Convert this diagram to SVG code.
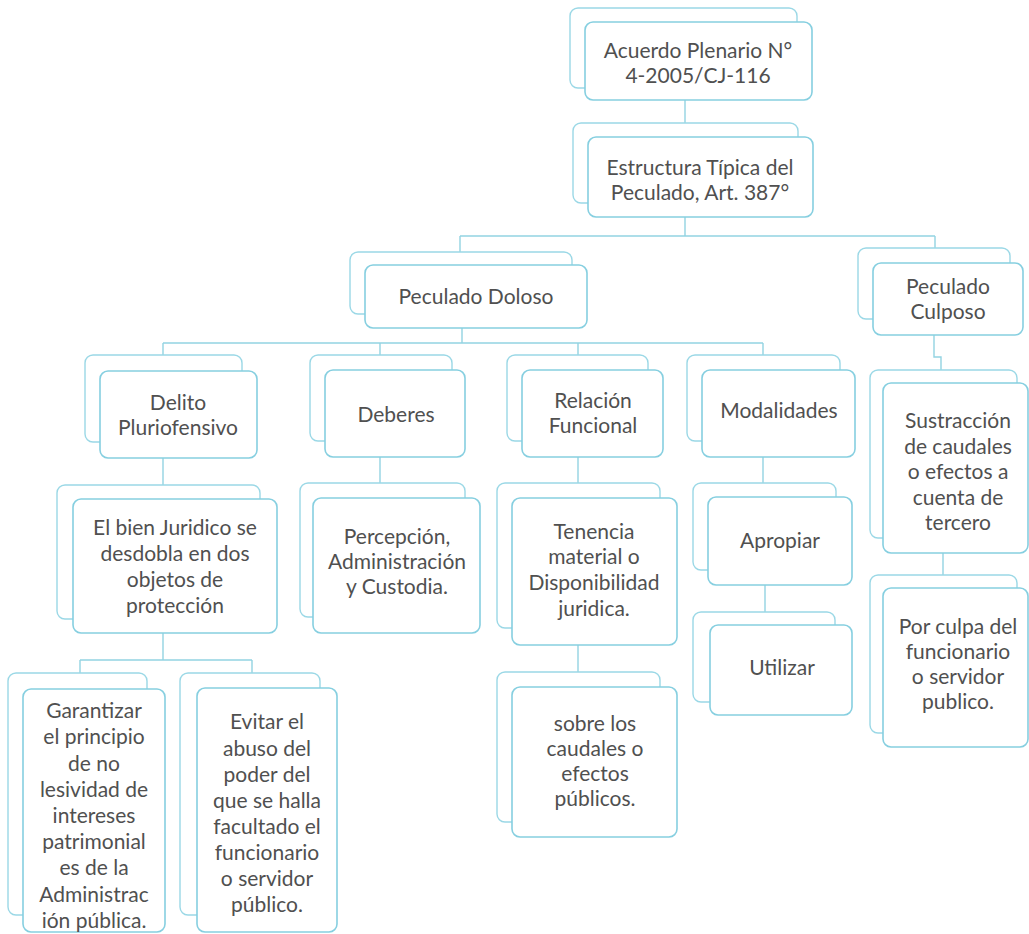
<svg xmlns="http://www.w3.org/2000/svg" width="1029" height="934" viewBox="0 0 1029 934">
  <style>
    .back { fill: #ffffff; stroke: #9bd8e6; stroke-width: 1.4; }
    .front { fill: #ffffff; stroke: #86cfe0; stroke-width: 1.6; }
    .link { fill: none; stroke: #93d3e2; stroke-width: 1.4; }
    text { font-family: Lato, "Liberation Sans", sans-serif; font-size: 21px; fill: #505050; text-anchor: middle; }
  </style>
  <rect width="1029" height="934" fill="#ffffff"/>

  <!-- connectors -->
  <g id="connectors">
    <path class="link" d="M685 100 V123"/>
    <path class="link" d="M685 217 V236 M460 236 H935 M460 236 V252 M935 236 V248"/>
    <path class="link" d="M462 328 V343 M163 343 H763 M163 343 V355 M380 343 V355 M578 343 V355 M763 343 V355"/>
    <path class="link" d="M934 335 V357 H941 V370"/>
    <path class="link" d="M163 458 V485"/>
    <path class="link" d="M380 457 V483"/>
    <path class="link" d="M578 457 V483"/>
    <path class="link" d="M763 457 V483"/>
    <path class="link" d="M163 633 V660 M80 660 H252 M80 660 V673 M252 660 V673"/>
    <path class="link" d="M578 645 V672"/>
    <path class="link" d="M765 585 V612"/>
    <path class="link" d="M943 553 V575"/>
  </g>

  <g id="acuerdo">
    <rect class="back" x="570" y="8" width="227" height="80" rx="8"/>
    <rect class="front" x="585" y="22" width="227" height="78" rx="8"/>
    <text x="698" y="58">Acuerdo Plenario N°</text>
    <text x="698" y="83">4-2005/CJ-116</text>
  </g>

  <g id="estructura">
    <rect class="back" x="573" y="123" width="225" height="80" rx="8"/>
    <rect class="front" x="588" y="137" width="225" height="80" rx="8"/>
    <text x="700" y="175">Estructura Típica del</text>
    <text x="700" y="200">Peculado, Art. 387°</text>
  </g>

  <g id="doloso">
    <rect class="back" x="350" y="252" width="222" height="62" rx="8"/>
    <rect class="front" x="365" y="265" width="222" height="63" rx="8"/>
    <text x="476" y="304">Peculado Doloso</text>
  </g>

  <g id="culposo">
    <rect class="back" x="858" y="248" width="152" height="71" rx="8"/>
    <rect class="front" x="873" y="263" width="150" height="72" rx="8"/>
    <text x="948" y="294">Peculado</text>
    <text x="948" y="319">Culposo</text>
  </g>

  <g id="delito">
    <rect class="back" x="85" y="355" width="157" height="87" rx="8"/>
    <rect class="front" x="100" y="371" width="157" height="87" rx="8"/>
    <text x="178" y="410">Delito</text>
    <text x="178" y="435">Pluriofensivo</text>
  </g>

  <g id="deberes">
    <rect class="back" x="310" y="355" width="142" height="86" rx="8"/>
    <rect class="front" x="325" y="370" width="140" height="87" rx="8"/>
    <text x="396" y="422">Deberes</text>
  </g>

  <g id="relacion">
    <rect class="back" x="507" y="355" width="141" height="86" rx="8"/>
    <rect class="front" x="522" y="370" width="141" height="87" rx="8"/>
    <text x="593" y="408">Relación</text>
    <text x="593" y="433">Funcional</text>
  </g>

  <g id="modalidades">
    <rect class="back" x="687" y="355" width="153" height="86" rx="8"/>
    <rect class="front" x="702" y="370" width="153" height="87" rx="8"/>
    <text x="779" y="418">Modalidades</text>
  </g>

  <g id="bien-juridico">
    <rect class="back" x="57" y="485" width="203" height="134" rx="8"/>
    <rect class="front" x="73" y="499" width="204" height="134" rx="8"/>
    <text x="175" y="535">El bien Juridico se</text>
    <text x="175" y="561">desdobla en dos</text>
    <text x="175" y="587">objetos de</text>
    <text x="175" y="613">protección</text>
  </g>

  <g id="percepcion">
    <rect class="back" x="300" y="483" width="165" height="134" rx="8"/>
    <rect class="front" x="313" y="498" width="167" height="135" rx="8"/>
    <text x="397" y="544">Percepción,</text>
    <text x="397" y="569">Administración</text>
    <text x="397" y="594">y Custodia.</text>
  </g>

  <g id="tenencia">
    <rect class="back" x="497" y="483" width="163" height="145" rx="8"/>
    <rect class="front" x="512" y="498" width="165" height="147" rx="8"/>
    <text x="594" y="539">Tenencia</text>
    <text x="594" y="564">material o</text>
    <text x="594" y="590">Disponibilidad</text>
    <text x="594" y="616">juridica.</text>
  </g>

  <g id="apropiar">
    <rect class="back" x="693" y="483" width="143" height="87" rx="8"/>
    <rect class="front" x="708" y="497" width="144" height="88" rx="8"/>
    <text x="780" y="548">Apropiar</text>
  </g>

  <g id="utilizar">
    <rect class="back" x="693" y="612" width="142" height="90" rx="8"/>
    <rect class="front" x="710" y="625" width="142" height="90" rx="8"/>
    <text x="782" y="675">Utilizar</text>
  </g>

  <g id="sobre-caudales">
    <rect class="back" x="497" y="672" width="163" height="150" rx="8"/>
    <rect class="front" x="512" y="687" width="165" height="150" rx="8"/>
    <text x="595" y="731">sobre los</text>
    <text x="595" y="756">caudales o</text>
    <text x="595" y="781">efectos</text>
    <text x="595" y="806">públicos.</text>
  </g>

  <g id="garantizar">
    <rect class="back" x="8" y="673" width="139" height="242" rx="8"/>
    <rect class="front" x="23" y="689" width="142" height="243" rx="8"/>
    <text x="94" y="718">Garantizar</text>
    <text x="94" y="744">el principio</text>
    <text x="94" y="771">de no</text>
    <text x="94" y="797">lesividad de</text>
    <text x="94" y="823">intereses</text>
    <text x="94" y="849">patrimonial</text>
    <text x="94" y="875">es de la</text>
    <text x="94" y="902">Administrac</text>
    <text x="94" y="928">ión pública.</text>
  </g>

  <g id="evitar">
    <rect class="back" x="180" y="673" width="140" height="242" rx="8"/>
    <rect class="front" x="197" y="688" width="140" height="244" rx="8"/>
    <text x="267" y="729">Evitar el</text>
    <text x="267" y="756">abuso del</text>
    <text x="267" y="782">poder del</text>
    <text x="267" y="808">que se halla</text>
    <text x="267" y="834">facultado el</text>
    <text x="267" y="860">funcionario</text>
    <text x="267" y="886">o servidor</text>
    <text x="267" y="912">público.</text>
  </g>

  <g id="sustraccion">
    <rect class="back" x="870" y="370" width="147" height="168" rx="8"/>
    <rect class="front" x="883" y="383" width="145" height="170" rx="8"/>
    <text x="958" y="428">Sustracción</text>
    <text x="958" y="454">de caudales</text>
    <text x="958" y="479">o efectos a</text>
    <text x="958" y="505">cuenta de</text>
    <text x="958" y="530">tercero</text>
  </g>

  <g id="por-culpa">
    <rect class="back" x="870" y="575" width="147" height="158" rx="8"/>
    <rect class="front" x="883" y="588" width="145" height="159" rx="8"/>
    <text x="958" y="634">Por culpa del</text>
    <text x="958" y="659">funcionario</text>
    <text x="958" y="684">o servidor</text>
    <text x="958" y="709">publico.</text>
  </g>
</svg>
